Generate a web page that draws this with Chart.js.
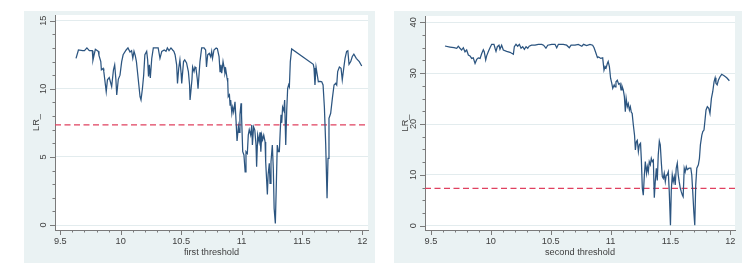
<!DOCTYPE html>
<html><head><meta charset="utf-8">
<script src="https://cdn.jsdelivr.net/npm/chart.js@4.4.1/dist/chart.umd.min.js"></script>
<style>
html,body{margin:0;padding:0;background:#fff;width:754px;height:279px;overflow:hidden;}
.panel{position:absolute;background:#eaf2f3;}
canvas{display:block;}
</style></head><body>
<div class="panel" style="left:24px;top:11px;width:351px;height:252px"><canvas id="c1" width="351" height="252"></canvas></div>
<div class="panel" style="left:394px;top:11px;width:348px;height:252px"><canvas id="c2" width="348" height="252"></canvas></div>
<script>
// ---- data (threshold value, LR statistic) ----
const firstThreshold = [
[9.63,12.24],[9.65,12.85],[9.685,12.8],[9.70,12.8],[9.72,13.0],[9.74,12.8],[9.765,12.8],[9.77,12.1],[9.79,12.9],[9.815,12.75],[9.82,12.45],[9.835,12.0],[9.84,11.4],[9.855,11.5],[9.86,11.27],[9.88,9.8],[9.89,10.66],[9.905,10.83],[9.915,10.5],[9.925,10.17],[9.94,11.4],[9.95,11.76],[9.96,10.7],[9.967,9.55],[9.98,10.7],[9.994,11.0],[10.008,12.0],[10.02,12.5],[10.045,12.85],[10.06,13.0],[10.077,12.7],[10.09,12.8],[10.10,12.24],[10.11,12.75],[10.12,12.45],[10.13,12.0],[10.14,11.14],[10.15,10.28],[10.16,9.42],[10.168,9.18],[10.18,10.04],[10.19,11.0],[10.20,12.5],[10.215,12.75],[10.223,12.12],[10.23,10.9],[10.237,11.76],[10.245,10.8],[10.257,12.24],[10.27,13.0],[10.29,13.0],[10.31,13.0],[10.325,12.24],[10.34,12.75],[10.36,12.85],[10.375,12.75],[10.386,13.0],[10.40,12.8],[10.416,13.0],[10.43,12.85],[10.44,12.75],[10.45,12.5],[10.463,11.76],[10.47,10.4],[10.48,11.5],[10.49,12.12],[10.50,11.14],[10.505,10.4],[10.52,12.0],[10.53,12.12],[10.545,11.9],[10.56,11.27],[10.57,10.28],[10.574,9.18],[10.59,10.7],[10.595,11.6],[10.607,11.27],[10.615,11.6],[10.623,11.5],[10.634,10.7],[10.64,10.0],[10.656,12.0],[10.67,13.0],[10.69,13.0],[10.703,12.85],[10.71,11.6],[10.72,12.5],[10.733,12.6],[10.745,12.35],[10.753,12.75],[10.76,12.24],[10.772,12.85],[10.79,13.0],[10.80,12.95],[10.814,12.37],[10.822,11.27],[10.83,11.76],[10.836,11.14],[10.847,12.0],[10.855,11.6],[10.863,11.14],[10.87,11.4],[10.88,10.8],[10.886,10.5],[10.89,9.42],[10.90,9.55],[10.905,8.8],[10.91,9.18],[10.92,8.2],[10.927,8.65],[10.935,8.3],[10.946,9.05],[10.955,7.6],[10.963,6.17],[10.974,7.23],[10.98,6.8],[10.987,8.1],[10.996,8.94],[11.0,8.1],[11.01,5.38],[11.02,5.14],[11.03,3.9],[11.037,5.38],[11.048,5.25],[11.056,6.6],[11.064,7.0],[11.076,6.6],[11.085,7.35],[11.09,5.87],[11.10,7.2],[11.11,6.97],[11.12,5.87],[11.125,4.28],[11.134,6.6],[11.145,6.1],[11.153,6.8],[11.16,5.38],[11.167,6.6],[11.175,6.26],[11.184,6.6],[11.195,6.1],[11.20,4.65],[11.214,2.25],[11.22,3.67],[11.23,4.53],[11.236,3.06],[11.244,4.65],[11.255,5.87],[11.263,4.16],[11.27,1.22],[11.28,0.12],[11.288,2.94],[11.296,5.87],[11.305,5.38],[11.313,5.38],[11.32,6.8],[11.327,8.1],[11.333,7.5],[11.34,8.65],[11.35,8.4],[11.357,9.18],[11.366,5.87],[11.374,8.4],[11.382,10.04],[11.39,10.3],[11.396,10.15],[11.404,12.0],[11.415,12.93],[11.594,11.8],[11.60,11.52],[11.608,10.28],[11.617,11.6],[11.625,11.14],[11.636,10.52],[11.65,10.55],[11.664,10.52],[11.675,10.28],[11.686,8.65],[11.697,5.87],[11.708,1.96],[11.716,4.9],[11.724,7.84],[11.738,8.2],[11.752,9.3],[11.766,10.28],[11.78,10.4],[11.788,10.28],[11.796,11.27],[11.81,11.6],[11.824,11.5],[11.834,10.66],[11.846,11.5],[11.857,12.24],[11.87,12.75],[11.88,12.8],[11.89,11.8],[11.904,12.0],[11.917,12.37],[11.93,12.55],[11.95,12.24],[11.975,12.0],[11.995,11.68]
];
const secondThreshold = [
[9.617,35.34],[9.659,35.14],[9.692,35.0],[9.715,34.88],[9.728,35.3],[9.742,34.9],[9.756,34.55],[9.77,35.0],[9.784,34.2],[9.798,34.55],[9.812,33.57],[9.826,33.4],[9.84,32.9],[9.853,33.0],[9.868,31.9],[9.882,32.7],[9.895,33.0],[9.91,32.9],[9.923,33.8],[9.937,34.6],[9.945,34.2],[9.957,32.6],[9.965,33.4],[9.98,34.3],[9.993,35.0],[10.007,35.67],[10.026,35.67],[10.035,34.9],[10.043,34.3],[10.054,35.2],[10.068,35.5],[10.076,34.7],[10.09,35.5],[10.104,34.55],[10.132,34.3],[10.16,34.1],[10.188,33.7],[10.196,35.2],[10.21,35.67],[10.224,35.3],[10.238,35.67],[10.252,34.9],[10.266,35.2],[10.28,34.7],[10.294,35.2],[10.308,34.9],[10.32,35.3],[10.34,35.5],[10.369,35.5],[10.396,35.67],[10.425,35.67],[10.44,35.5],[10.46,34.9],[10.475,35.5],[10.508,35.67],[10.536,35.67],[10.55,35.0],[10.564,35.67],[10.605,35.67],[10.633,35.5],[10.655,35.0],[10.67,35.5],[10.703,35.5],[10.73,35.67],[10.76,35.3],[10.774,35.67],[10.8,35.4],[10.828,35.67],[10.85,35.5],[10.862,35.0],[10.878,33.9],[10.89,33.05],[10.9,33.2],[10.918,32.9],[10.934,33.0],[10.945,30.6],[10.954,31.3],[10.962,31.0],[10.973,31.9],[10.98,32.3],[10.99,31.3],[11.0,29.0],[11.01,28.0],[11.018,27.0],[11.03,27.7],[11.037,27.3],[11.045,28.3],[11.056,28.6],[11.068,27.8],[11.079,28.0],[11.087,26.7],[11.095,27.5],[11.106,26.7],[11.115,25.4],[11.123,22.4],[11.13,25.05],[11.14,23.4],[11.148,24.0],[11.157,22.75],[11.165,23.4],[11.173,22.3],[11.18,22.1],[11.19,19.8],[11.2,17.8],[11.207,14.9],[11.215,16.5],[11.223,16.8],[11.232,14.55],[11.24,15.9],[11.25,16.2],[11.257,12.9],[11.265,7.36],[11.273,6.0],[11.282,9.97],[11.29,12.6],[11.3,10.3],[11.307,11.6],[11.315,10.6],[11.323,12.6],[11.332,12.0],[11.34,13.25],[11.348,12.6],[11.357,12.9],[11.365,5.5],[11.373,8.66],[11.382,11.3],[11.39,8.9],[11.398,13.9],[11.407,16.65],[11.415,15.9],[11.424,12.3],[11.432,9.64],[11.44,9.3],[11.448,10.3],[11.457,8.66],[11.465,9.97],[11.473,9.97],[11.482,10.6],[11.49,6.7],[11.5,0.1],[11.507,7.0],[11.515,9.97],[11.523,8.66],[11.532,9.64],[11.54,8.0],[11.548,11.3],[11.557,12.3],[11.565,9.97],[11.573,8.66],[11.582,7.4],[11.59,6.7],[11.6,6.0],[11.606,5.7],[11.615,11.3],[11.623,10.6],[11.632,11.6],[11.64,11.0],[11.655,11.3],[11.67,11.3],[11.678,9.97],[11.686,6.7],[11.695,2.75],[11.703,0.1],[11.711,8.0],[11.72,11.3],[11.733,11.97],[11.742,13.25],[11.75,15.9],[11.762,17.8],[11.77,18.5],[11.78,18.8],[11.79,21.1],[11.797,22.75],[11.808,23.4],[11.82,23.1],[11.83,22.1],[11.842,25.05],[11.853,26.35],[11.864,28.3],[11.873,29.1],[11.88,28.0],[11.89,27.7],[11.9,28.6],[11.914,29.3],[11.928,29.77],[11.948,29.5],[11.97,29.1],[11.992,28.5]
];
const critValue = 7.35;
const xTicks = [9.5, 10, 10.5, 11, 11.5, 12];
const xTickText = ['9.5', '10', '10.5', '11', '11.5', '12'];
const yTicks1 = [0, 5, 10, 15];
const yTicks2 = [0, 10, 20, 30, 40];
const xTitle1 = 'first threshold';
const xTitle2 = 'second threshold';
const yTitle = 'LR_';

const FONT = '9.2px "Liberation Sans", Arial, sans-serif';
const TEXT = '#404040';
const AXIS = '#7a7a7a';

const stataAxes = {
  id: 'stataAxes',
  beforeDraw(chart) {
    const {ctx, chartArea: a} = chart;
    ctx.save();
    ctx.fillStyle = '#ffffff';
    ctx.fillRect(a.left, a.top, a.right - a.left, a.bottom - a.top);
    ctx.restore();
  },
  afterDraw(chart) {
    const o = chart.options.plugins.stataAxes;
    const {ctx, chartArea: a} = chart;
    const xs = chart.scales.x, ys = chart.scales.y;
    ctx.save();
    ctx.strokeStyle = AXIS;
    ctx.lineWidth = 1;
    ctx.beginPath();
    // x ticks (major + minor)
    for (let i = 0; i < o.xTicks.length; i++) {
      const v = o.xTicks[i];
      const p = Math.round(xs.getPixelForValue(v)) + 0.5;
      ctx.moveTo(p, a.bottom); ctx.lineTo(p, a.bottom + 5);
      if (i < o.xTicks.length - 1) {
        const step = (o.xTicks[i + 1] - v) / o.xMinor;
        for (let k = 1; k < o.xMinor; k++) {
          const q = Math.round(xs.getPixelForValue(v + k * step)) + 0.5;
          ctx.moveTo(q, a.bottom); ctx.lineTo(q, a.bottom + 2.5);
        }
      }
    }
    for (let i = 0; i < o.yTicks.length; i++) {
      const v = o.yTicks[i];
      const p = Math.round(ys.getPixelForValue(v)) + 0.5;
      ctx.moveTo(a.left, p); ctx.lineTo(a.left - 5, p);
      if (i < o.yTicks.length - 1) {
        const step = (o.yTicks[i + 1] - v) / o.yMinor;
        for (let k = 1; k < o.yMinor; k++) {
          const q = Math.round(ys.getPixelForValue(v + k * step)) + 0.5;
          ctx.moveTo(a.left, q); ctx.lineTo(a.left - 2.5, q);
        }
      }
    }
    ctx.stroke();
    ctx.fillStyle = TEXT;
    ctx.font = FONT;
    ctx.textAlign = 'center';
    ctx.textBaseline = 'middle';
    o.xTicks.forEach((v, i) => {
      ctx.fillText(o.xTickText[i], xs.getPixelForValue(v), a.bottom + 11);
    });
    ctx.fillText(o.xTitle, (a.left + a.right) / 2 + o.titleShift, a.bottom + 22);
    o.yTicks.forEach((v) => {
      ctx.save();
      ctx.translate(a.left - 12, ys.getPixelForValue(v));
      ctx.rotate(-Math.PI / 2);
      ctx.fillText(String(v), 0, 0);
      ctx.restore();
    });
    ctx.save();
    ctx.translate(a.left - o.yTitleOff, (a.top + a.bottom) / 2 + o.yTitleShift);
    ctx.rotate(-Math.PI / 2);
    ctx.fillText(o.yTitle, 0, 0);
    ctx.restore();
    ctx.restore();
  }
};

function makeChart(id, series, c) {
  const ctx = document.getElementById(id);
  return new Chart(ctx, {
    type: 'scatter',
    data: {
      datasets: [
        {
          data: series.map(p => ({x: p[0], y: p[1]})),
          showLine: true, pointRadius: 0, borderColor: '#2c5580', borderWidth: 1.25,
          tension: 0, order: 1
        },
        {
          data: [{x: c.xmin, y: critValue}, {x: c.xmax, y: critValue}],
          showLine: true, pointRadius: 0, borderColor: '#e0405f', borderWidth: 1.2,
          borderDash: [6, 3.5], order: 2
        }
      ]
    },
    options: {
      responsive: false, animation: false, devicePixelRatio: 1,
      layout: {padding: {left: 0, right: c.padRight, top: c.padTop, bottom: 0}},
      plugins: {
        legend: {display: false}, tooltip: {enabled: false},
        stataAxes: {
          xTicks: xTicks, xTickText: xTickText, xMinor: 5,
          yTicks: c.yTicks, yMinor: c.yMinor, xTitle: c.xTitle, yTitle: yTitle,
          titleShift: c.titleShift, yTitleOff: c.yTitleOff, yTitleShift: c.yTitleShift
        }
      },
      scales: {
        x: {
          type: 'linear', min: c.xmin, max: c.xmax,
          ticks: {display: false},
          grid: {display: false, drawTicks: false},
          border: {display: true, color: AXIS, width: 1},
          afterBuildTicks: s => { s.ticks = xTicks.map(v => ({value: v})); },
          afterFit: s => { s.height = c.xHeight; }
        },
        y: {
          type: 'linear', min: c.ymin, max: c.ymax,
          ticks: {display: false},
          grid: {color: '#e3ecee', lineWidth: 1, drawTicks: false},
          border: {display: true, color: AXIS, width: 1},
          afterBuildTicks: s => { s.ticks = c.yTicks.map(v => ({value: v})); },
          afterFit: s => { s.width = c.yWidth; }
        }
      }
    },
    plugins: [stataAxes]
  });
}

makeChart('c1', firstThreshold, {
  xmin: 9.456, xmax: 12.047, ymin: -0.367, ymax: 15.42,
  yTicks: yTicks1, yMinor: 5, xTitle: xTitle1,
  padRight: 7, padTop: 4, xHeight: 33, yWidth: 31,
  titleShift: 0, yTitleOff: 18.5, yTitleShift: 0
});
makeChart('c2', secondThreshold, {
  xmin: 9.45, xmax: 12.039, ymin: -0.846, ymax: 41.24,
  yTicks: yTicks2, yMinor: 4, xTitle: xTitle2,
  padRight: 7, padTop: 5, xHeight: 33, yWidth: 31,
  titleShift: 0, yTitleOff: 20, yTitleShift: 0
});
</script>
</body></html>
